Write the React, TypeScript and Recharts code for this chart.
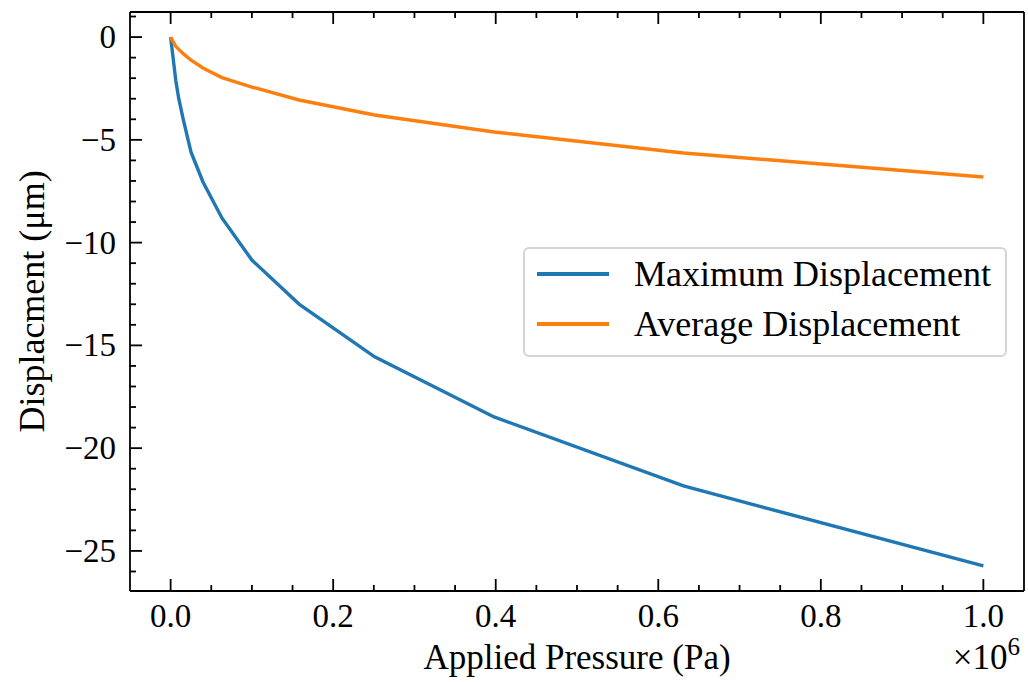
import React from 'react';
import { LineChart, Line, XAxis, YAxis, Legend, Label } from 'recharts';

// applied pressure, in units of 1e6 Pa
const PRESSURE = [0, 0.0063, 0.01, 0.0158, 0.0251, 0.0398, 0.0631, 0.1, 0.158, 0.251, 0.398, 0.631, 1.0];
const MAX_DISP = [0, -2.1, -3.0, -4.05, -5.6, -7.05, -8.8, -10.85, -12.99, -15.56, -18.48, -21.84, -25.73];
const AVG_DISP = [0, -0.45, -0.6, -0.82, -1.12, -1.5, -1.97, -2.43, -3.06, -3.79, -4.62, -5.64, -6.81];

const X_MAJOR = [0, 0.2, 0.4, 0.6, 0.8, 1.0];
const X_MINOR = [0.05, 0.1, 0.15, 0.25, 0.3, 0.35, 0.45, 0.5, 0.55, 0.65, 0.7, 0.75, 0.85, 0.9, 0.95];
const Y_MAJOR = [0, -5, -10, -15, -20, -25];
const Y_MINOR = [1, -1, -2, -3, -4, -6, -7, -8, -9, -11, -12, -13, -14, -16, -17, -18, -19, -21, -22, -23, -24, -26];

const SERIES = [
  { key: 'max', name: 'Maximum Displacement', color: '#1f77b4' },
  { key: 'avg', name: 'Average Displacement', color: '#ff7f0e' },
];

const data = PRESSURE.map((p, i) => ({ p, max: MAX_DISP[i], avg: AVG_DISP[i] }));

const FONT = '"Liberation Serif", "Times New Roman", serif';
const INK = '#000';

const fmtY = (v: number) => (v < 0 ? '\u2212' + Math.abs(v) : String(v));

// inward ticks (major + minor) drawn by hand, labels only on bottom/left
const makeTick = (side: 'bottom' | 'left' | 'top' | 'right', labels: boolean) => (props: any) => {
  const { x, y, payload } = props;
  const v = payload.value;
  const major = side === 'bottom' || side === 'top' ? X_MAJOR.includes(v) : Y_MAJOR.includes(v);
  const len = major ? 12 : 6;
  let line;
  if (side === 'bottom') line = <line x1={x} y1={y} x2={x} y2={y - len} stroke={INK} strokeWidth={1.8} />;
  else if (side === 'top') line = <line x1={x} y1={y} x2={x} y2={y + len} stroke={INK} strokeWidth={1.8} />;
  else if (side === 'left') line = <line x1={x} y1={y} x2={x + len} y2={y} stroke={INK} strokeWidth={1.8} />;
  else line = <line x1={x} y1={y} x2={x - len} y2={y} stroke={INK} strokeWidth={1.8} />;

  let text = null;
  if (labels && major) {
    if (side === 'bottom') {
      text = (
        <text x={x} y={y + 25} textAnchor="middle" dominantBaseline="central" fontFamily={FONT} fontSize={33} fill={INK}>
          {v.toFixed(1)}
        </text>
      );
    } else if (side === 'left') {
      text = (
        <text x={x - 14} y={y} textAnchor="end" dominantBaseline="central" fontFamily={FONT} fontSize={33} fill={INK}>
          {fmtY(v)}
        </text>
      );
    }
  }
  return (
    <g>
      {line}
      {text}
    </g>
  );
};

const LegendBox = () => (
  <div
    style={{
      boxSizing: 'border-box',
      width: 484,
      height: 110,
      border: '2px solid #d4d4d4',
      borderRadius: 6,
      background: 'rgba(255,255,255,0.8)',
      fontFamily: FONT,
      fontSize: 36,
      color: INK,
      paddingTop: 0,
    }}
  >
    {SERIES.map((s) => (
      <div key={s.key} style={{ display: 'flex', alignItems: 'center', height: 50 }}>
        <div style={{ width: 72, height: 3.5, background: s.color, marginLeft: 12, marginRight: 25 }} />
        <span style={{ lineHeight: 1 }}>{s.name}</span>
      </div>
    ))}
  </div>
);

export default function App() {
  const ticksX = [...X_MAJOR, ...X_MINOR];
  const ticksY = [...Y_MAJOR, ...Y_MINOR];
  return (
    <div style={{ position: 'absolute', left: 0, top: 0, width: 1028, height: 682, background: '#fff' }}>
      <LineChart width={1028} height={682} data={data} margin={{ top: 11, right: 3, bottom: 90, left: 129 }}>
        <XAxis
          dataKey="p"
          type="number"
          domain={[-0.05, 1.05]}
          ticks={ticksX}
          interval={0}
          height={1}
          tickSize={0}
          tickMargin={0}
          tickLine={false}
          axisLine={{ stroke: INK, strokeWidth: 1.8 }}
          tick={makeTick('bottom', true)}
        >
          <Label
            content={({ viewBox }: any) => (
              <g>
                <text
                  x={viewBox.x + viewBox.width / 2}
                  y={viewBox.y + 78}
                  textAnchor="middle"
                  fontFamily={FONT}
                  fontSize={35}
                  fill={INK}
                >
                  Applied Pressure (Pa)
                </text>
                <text x={viewBox.x + viewBox.width - 4} y={viewBox.y + 78} textAnchor="end" fontFamily={FONT} fontSize={35} fill={INK}>
                  ×10<tspan dy={-14} fontSize={25}>6</tspan>
                </text>
              </g>
            )}
          />
        </XAxis>
        <XAxis
          xAxisId="top"
          orientation="top"
          dataKey="p"
          type="number"
          domain={[-0.05, 1.05]}
          ticks={ticksX}
          interval={0}
          height={1}
          tickSize={0}
          tickMargin={0}
          tickLine={false}
          axisLine={{ stroke: INK, strokeWidth: 1.8 }}
          tick={makeTick('top', false)}
        />
        <YAxis
          type="number"
          domain={[-26.95, 1.22]}
          ticks={ticksY}
          interval={0}
          width={1}
          tickSize={0}
          tickMargin={0}
          tickLine={false}
          axisLine={{ stroke: INK, strokeWidth: 1.8 }}
          tick={makeTick('left', true)}
        >
          <Label
            content={({ viewBox }: any) => {
              const cx = viewBox.x + viewBox.width - 98;
              const cy = viewBox.y + viewBox.height / 2;
              return (
                <text
                  x={cx}
                  y={cy}
                  transform={`rotate(-90 ${cx} ${cy})`}
                  textAnchor="middle"
                  dominantBaseline="central"
                  fontFamily={FONT}
                  fontSize={36}
                  fill={INK}
                >
                  Displacment (μm)
                </text>
              );
            }}
          />
        </YAxis>
        <YAxis
          yAxisId="right"
          orientation="right"
          type="number"
          domain={[-26.95, 1.22]}
          ticks={ticksY}
          interval={0}
          width={1}
          tickSize={0}
          tickMargin={0}
          tickLine={false}
          axisLine={{ stroke: INK, strokeWidth: 1.8 }}
          tick={makeTick('right', false)}
        />
        {SERIES.map((s) => (
          <Line
            key={s.key}
            type="linear"
            dataKey={s.key}
            name={s.name}
            stroke={s.color}
            strokeWidth={3.4}
            dot={false}
            isAnimationActive={false}
          />
        ))}
        <Legend
          layout="vertical"
          align="center"
          verticalAlign="middle"
          content={<LegendBox />}
          wrapperStyle={{ left: 523, top: 247, width: 484, height: 110 }}
        />
      </LineChart>
    </div>
  );
}
